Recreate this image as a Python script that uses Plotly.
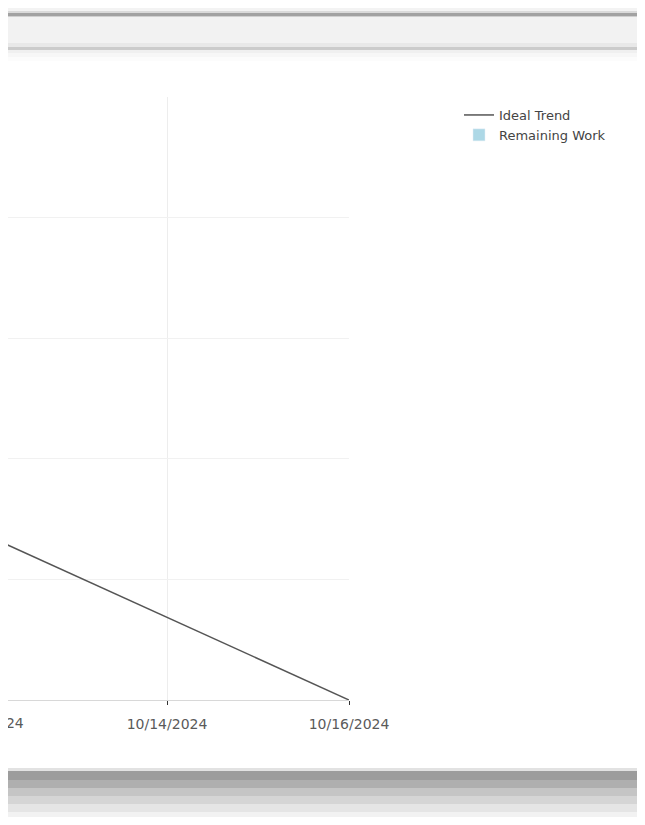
import plotly.graph_objects as go
from datetime import datetime

# ---- data ----
ideal_dates = ["2024-10-02", "2024-10-16"]
ideal_values = [48, 0]
remaining_dates = [None]
remaining_values = [None]
tick_dates = ["2024-10-12", "2024-10-14", "2024-10-16"]
x_start = "2024-10-12 06:04"
x_end = "2024-10-16"
y_max = 50
y_step = 10

# page has an 8px body margin; work in page pixels and convert
OFF = 8
W, H = 645 - OFF, 825 - 2 * OFF
L, R, T, B = 8, 349, 97, 700  # plot area in page pixels


def X(px):
    return (px - L) / (R - L)


def Y(py):
    return (B - py) / (B - T)


fig = go.Figure()
fig.add_trace(go.Scatter(x=ideal_dates, y=ideal_values, mode="lines",
                         name="Ideal Trend",
                         line=dict(color="#555555", width=1.5)))
fig.add_trace(go.Bar(x=remaining_dates, y=remaining_values, name="Remaining Work",
                     marker=dict(color="#add8e6")))

# window chrome bands (page pixel rows -> paper coords)
bands_top = [
    (8, 11, "#f3f3f3"), (11, 13, "#dadada"), (13, 16, "#a2a2a2"),
    (16, 17, "#d0d0d0"), (17, 43, "#f2f2f2"), (43, 47, "#e8e8e8"), (47, 50, "#cbcbcb"),
    (50, 53, "#f0f0f0"), (53, 57, "#f7f7f7"), (57, 61, "#fcfcfc"),
]
bands_bottom = [
    (768, 771, "#e2e2e2"), (771, 780, "#9c9c9c"), (780, 788, "#afafaf"),
    (788, 796, "#c5c5c5"), (796, 804, "#d5d5d5"), (804, 812, "#e5e5e5"),
    (812, 820, "#f2f2f2"), (820, 826, "#f8f8f8"),
]
shapes = []
for y0, y1, c in bands_top + bands_bottom:
    shapes.append(dict(type="rect", xref="paper", yref="paper",
                       x0=X(8), x1=X(646), y0=Y(y1), y1=Y(y0),
                       fillcolor=c, line=dict(width=0), layer="above"))

tick_font = dict(family="DejaVu Sans", size=14, color="#5a5a5a")
first_label = datetime.strptime(tick_dates[0], "%Y-%m-%d").strftime("%m/%d/%Y")

fig.update_layout(
    width=W, height=H,
    margin=dict(l=L - OFF, r=645 - R, t=T - OFF, b=H + OFF - B, pad=0),
    paper_bgcolor="white", plot_bgcolor="white",
    showlegend=True,
    legend=dict(x=X(459), y=Y(100), xanchor="left", yanchor="top",
                font=dict(family="DejaVu Sans", size=13, color="#444444"),
                bgcolor="rgba(0,0,0,0)", traceorder="normal", tracegroupgap=0),
    xaxis=dict(type="date", range=[x_start, x_end], tickvals=tick_dates,
               tickformat="%m/%d/%Y", tickfont=tick_font, ticks="outside",
               ticklen=4, tickcolor="#333333", tickwidth=1,
               ticklabelstandoff=7,
               showgrid=True, gridcolor="#ededed", gridwidth=1,
               showline=True, linecolor="#d8d8d8", linewidth=1, zeroline=False),
    yaxis=dict(range=[0, y_max], dtick=y_step, showticklabels=False,
               showgrid=True, gridcolor="#f1f1f1", gridwidth=1,
               zeroline=False, showline=False, ticks=""),
    shapes=shapes,
    annotations=[dict(text=first_label, xref="paper", yref="paper",
                      x=X(-17), y=Y(723), xanchor="center", yanchor="middle",
                      showarrow=False, font=tick_font)],
    bargap=0.2,
)

fig.write_html("out.html")
